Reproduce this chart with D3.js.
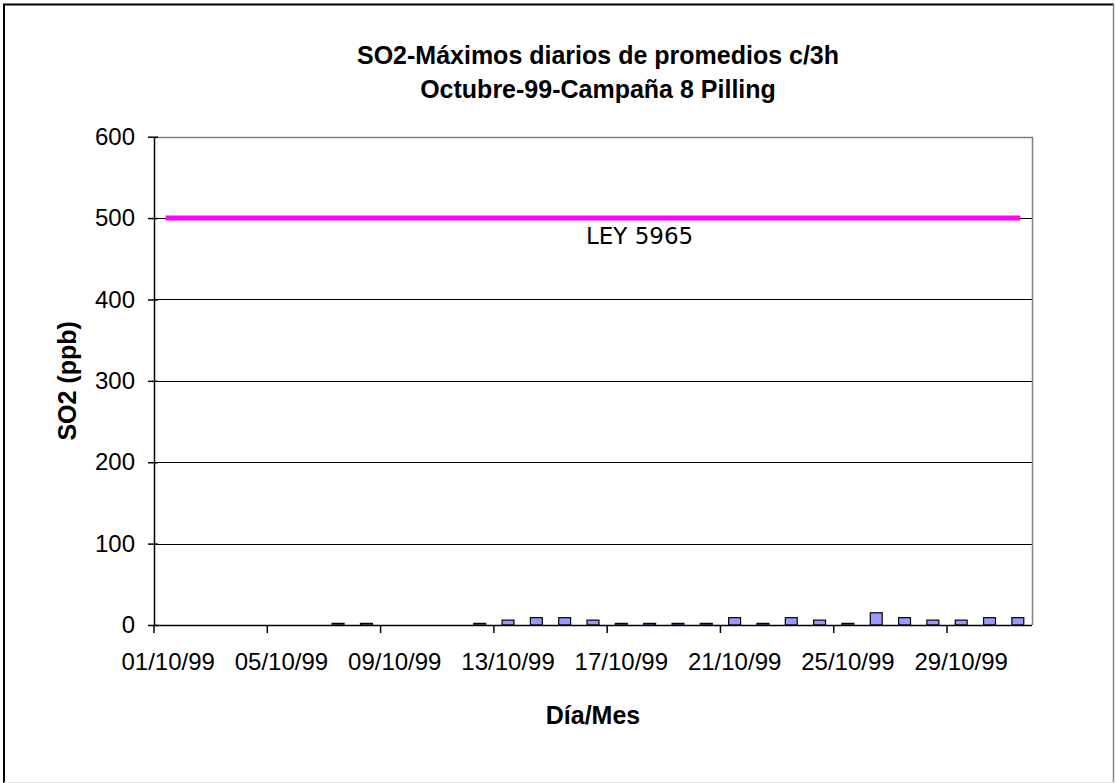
<!DOCTYPE html>
<html>
<head>
<meta charset="utf-8">
<script src="https://cdn.jsdelivr.net/npm/d3@7"></script>
<style>
  html, body { margin: 0; padding: 0; background: #fff; }
  svg { display: block; }
</style>
</head>
<body>
<svg id="chart" width="1115" height="783"></svg>
<script>
const days = ["01/10/99","02/10/99","03/10/99","04/10/99","05/10/99","06/10/99","07/10/99","08/10/99",
  "09/10/99","10/10/99","11/10/99","12/10/99","13/10/99","14/10/99","15/10/99","16/10/99",
  "17/10/99","18/10/99","19/10/99","20/10/99","21/10/99","22/10/99","23/10/99","24/10/99",
  "25/10/99","26/10/99","27/10/99","28/10/99","29/10/99","30/10/99","31/10/99"];
const so2Values = [null,null,null,null,null,null,2,2,null,null,null,2,6,9,9,6,
  2,2,2,2,9,2,9,6,2,15,9,6,6,9,9];
const leyValues = [500,500,500,500,500,500,500,500,500,500,500,500,500,500,500,500,
  500,500,500,500,500,500,500,500,500,500,500,500,500,500,500];
const yTicks = [0,100,200,300,400,500,600];
const titleLines = ["SO2-Máximos diarios de promedios c/3h", "Octubre-99-Campaña 8 Pilling"];
const yTitle = "SO2 (ppb)";
const xTitle = "Día/Mes";
const leyLabel = "LEY 5965";

const svg = d3.select("#chart");
const W = 1115, H = 783;
const plot = {left: 154, right: 1032, top: 136.7, bottom: 625};
const FONT = "'Liberation Sans', Arial, sans-serif";

svg.append("rect").attr("width", W).attr("height", H).attr("fill", "#fff");

// outer frame
svg.append("line").attr("x1",4).attr("x2",4).attr("y1",4).attr("y2",H).attr("stroke","#000").attr("stroke-width",2);
svg.append("line").attr("x1",3).attr("x2",1114).attr("y1",4.5).attr("y2",4.5).attr("stroke","#000").attr("stroke-width",2);
svg.append("line").attr("x1",1113.5).attr("x2",1113.5).attr("y1",4).attr("y2",H).attr("stroke","#888").attr("stroke-width",1.5);
svg.append("line").attr("x1",4).attr("x2",1114).attr("y1",782.5).attr("y2",782.5).attr("stroke","#e6e6e6").attr("stroke-width",1);

const x = d3.scaleBand().domain(days).range([plot.left, plot.right]).padding(0);
const y = d3.scaleLinear().domain([0, 600]).range([plot.bottom, plot.top]);
const bw = x.bandwidth();

// gridlines
svg.append("g").selectAll("line").data(yTicks.filter(v => v > 0 && v < 600)).join("line")
  .attr("x1", plot.left).attr("x2", plot.right)
  .attr("y1", d => Math.round(y(d)) + 0.5).attr("y2", d => Math.round(y(d)) + 0.5)
  .attr("stroke", "#000").attr("stroke-width", 1);

// plot border top / right (gray)
svg.append("path")
  .attr("d", `M${plot.left},${Math.round(plot.top)+0.5} H${plot.right+0.5} V${plot.bottom}`)
  .attr("fill","none").attr("stroke","#808080").attr("stroke-width",1.5);

// bars
const barW = bw * 0.42;
svg.append("g").selectAll("rect").data(days.map((d,i) => ({d, v: so2Values[i]})).filter(o => o.v !== null)).join("rect")
  .attr("x", o => x(o.d) + (bw - barW)/2)
  .attr("width", barW)
  .attr("y", o => y(o.v))
  .attr("height", o => y(0) - y(o.v))
  .attr("fill", "#9999ff").attr("stroke", "#000").attr("stroke-width", 1.2);

// LEY line
const line = d3.line().x((v,i) => x(days[i]) + bw/2).y(v => y(v));
svg.append("path").datum(leyValues).attr("d", line)
  .attr("fill","none").attr("stroke","#ff00ff").attr("stroke-width",5).attr("stroke-linecap","square");

svg.append("text").attr("x", x(days[15]) + bw/2 - 7).attr("y", y(500) + 26)
  .attr("font-family", "'DejaVu Sans', Verdana, sans-serif").attr("font-size", 23).attr("fill","#000")
  .text(leyLabel);

// Y axis
const yAxis = d3.axisLeft(y).tickValues(yTicks).tickSize(0).tickPadding(19);
const gy = svg.append("g").attr("transform", `translate(${plot.left},0)`).call(yAxis);
gy.select(".domain").attr("stroke","#000").attr("stroke-width",1.5);
gy.selectAll(".tick line").attr("x1",-6).attr("x2",4).attr("stroke","#000").attr("stroke-width",1.5);
gy.selectAll(".tick text").attr("font-family", FONT).attr("font-size", 24).attr("fill","#000");

// X axis
const labelDays = days.filter((d,i) => i % 4 === 0);
const xAxis = d3.axisBottom(x).tickValues(labelDays).tickSize(0).tickPadding(10);
const gx = svg.append("g").attr("transform", `translate(0,${plot.bottom})`).call(xAxis);
gx.select(".domain").attr("d", `M${plot.left},0.5H${plot.right}`).attr("stroke","#000").attr("stroke-width",1.5);
gx.selectAll(".tick line").attr("x1", -bw/2).attr("x2", -bw/2).attr("y1", 0).attr("y2", 8)
  .attr("stroke","#000").attr("stroke-width",1.5);
gx.selectAll(".tick text").attr("font-family", FONT).attr("font-size", 24).attr("fill","#000")
  .attr("dy", "0.71em").attr("y", 28);

// Titles
const cx = 598;
svg.append("text").attr("x", cx).attr("y", 64).attr("text-anchor","middle")
  .attr("font-family", FONT).attr("font-weight","bold").attr("font-size", 25).text(titleLines[0]);
svg.append("text").attr("x", cx).attr("y", 98).attr("text-anchor","middle")
  .attr("font-family", FONT).attr("font-weight","bold").attr("font-size", 25).text(titleLines[1]);

svg.append("text").attr("transform", `translate(76,${(plot.top+plot.bottom)/2}) rotate(-90)`)
  .attr("text-anchor","middle")
  .attr("font-family", FONT).attr("font-weight","bold").attr("font-size", 25).text(yTitle);

svg.append("text").attr("x", (plot.left+plot.right)/2).attr("y", 724).attr("text-anchor","middle")
  .attr("font-family", FONT).attr("font-weight","bold").attr("font-size", 25).text(xTitle);
</script>
</body>
</html>
